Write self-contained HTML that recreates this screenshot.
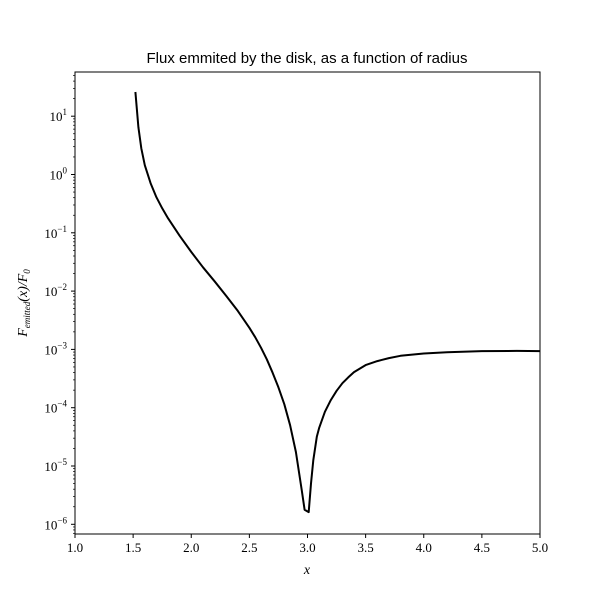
<!DOCTYPE html>
<html><head><meta charset="utf-8"><style>
body{margin:0;background:#fff;}
svg{display:block;font-family:"Liberation Serif",serif;}
</style></head><body>
<svg id="chart" width="600" height="600" xmlns="http://www.w3.org/2000/svg"></svg>
<script>
const xs = [1.52,1.545,1.57,1.6,1.65,1.7,1.75,1.8,1.9,2.0,2.1,2.2,2.3,2.4,2.5,2.55,2.6,2.65,2.7,2.75,2.8,2.85,2.9,2.95,2.975,3.01,3.03,3.05,3.08,3.1,3.15,3.2,3.25,3.3,3.35,3.4,3.5,3.6,3.7,3.8,4.0,4.2,4.5,4.8,5.0];
const logF = [1.415,0.81,0.45,0.16,-0.15,-0.39,-0.58,-0.75,-1.05,-1.33,-1.59,-1.83,-2.08,-2.34,-2.63,-2.79,-2.97,-3.17,-3.4,-3.65,-3.94,-4.3,-4.76,-5.41,-5.75,-5.79,-5.3,-4.9,-4.5,-4.35,-4.07,-3.87,-3.71,-3.58,-3.48,-3.39,-3.27,-3.2,-3.15,-3.11,-3.07,-3.05,-3.03,-3.025,-3.03];
const xTicks = [1.0,1.5,2.0,2.5,3.0,3.5,4.0,4.5,5.0];
const yTicks = [1,0,-1,-2,-3,-4,-5,-6];
const L=75,R=540,T=72,B=534;
const X=v=>L+(v-1)/4*(R-L);
const Y=e=>174.5-e*58.3;
const svg=document.getElementById('chart');
const NS='http://www.w3.org/2000/svg';
function mk(tag,attrs,text){const e=document.createElementNS(NS,tag);for(const k in attrs)e.setAttribute(k,attrs[k]);if(text!==undefined)e.textContent=text;svg.appendChild(e);return e;}
let e;
e=mk('rect',{x:L,y:T,width:R-L,height:B-T,fill:'none',stroke:'#000','stroke-width':1});


xTicks.forEach(v=>{
  e=mk('line',{x1:X(v),x2:X(v),y1:B,y2:B+4,stroke:'#000'});
  
  
  e=mk('text',{x:X(v),y:B+18,'text-anchor':'middle','font-size':13},v.toFixed(1));
  
  
});
for(let d=-7;d<=2;d++){for(let m=2;m<=9;m++){const yy=Y(d+Math.log10(m));if(yy>T&&yy<B){
  e=mk('line',{x1:L-2,x2:L,y1:yy,y2:yy,stroke:'#000','stroke-width':0.7});
  
  
}}}
yTicks.forEach(v=>{
  e=mk('line',{x1:L-4,x2:L,y1:Y(v),y2:Y(v),stroke:'#000'});
  
  
  const t=mk('text',{x:L-8,y:Y(v)+5,'text-anchor':'end','font-size':13});
  
  
  const a=document.createElementNS(NS,'tspan');a.textContent='10';t.appendChild(a);
  const b=document.createElementNS(NS,'tspan');b.setAttribute('dy','-6');b.setAttribute('font-size','9');b.textContent=String(v).replace('-','\u2212');t.appendChild(b);
});
const d=xs.map((v,i)=>(i?'L':'M')+X(v).toFixed(1)+','+Y(logF[i]).toFixed(1)).join(' ');
e=mk('path',{d:d,fill:'none',stroke:'#000','stroke-width':2,'stroke-linejoin':'round'});


e=mk('text',{x:307,y:63,'text-anchor':'middle','font-size':15,'font-family':'Liberation Sans, sans-serif'},'Flux emmited by the disk, as a function of radius');


e=mk('text',{x:307,y:574,'text-anchor':'middle','font-size':14,'font-style':'italic'},'x');


e=mk('text',{x:0,y:0,'text-anchor':'middle','font-size':14,'font-style':'italic',transform:'translate(27,303) rotate(-90)'},'F');


e.innerHTML='F<tspan font-size="9" dy="3">emitted</tspan><tspan dy="-3">(x)/F</tspan><tspan font-size="9" dy="3">0</tspan>';
</script>
</body></html>
